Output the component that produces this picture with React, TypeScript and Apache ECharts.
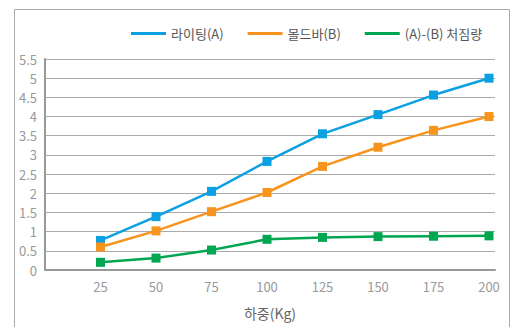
import React, { useEffect, useRef } from "react";
import * as echarts from "echarts";

const loads = [25, 50, 75, 100, 125, 150, 175, 200];
const seriesA = [0.77, 1.39, 2.05, 2.83, 3.55, 4.05, 4.56, 5.0];
const seriesB = [0.6, 1.02, 1.52, 2.02, 2.7, 3.2, 3.64, 4.0];
const seriesDiff = [0.2, 0.31, 0.52, 0.8, 0.85, 0.87, 0.88, 0.89];
const names = ["라이팅(A)", "몰드바(B)", "(A)-(B) 처짐량"];
const colors = ["#0aa0e2", "#f7941d", "#00a650"];

const FONT = "'Noto Sans CJK KR', 'Noto Sans', sans-serif";

export default function App() {
  const ref = useRef<HTMLDivElement>(null);
  useEffect(() => {
    if (!ref.current) return;
    const chart = echarts.init(ref.current, undefined, { renderer: "svg" });
    const mk = (vals: number[]) => loads.map((x, i) => [x, vals[i]]);
    const all = [seriesA, seriesB, seriesDiff];
    chart.setOption({
      animation: false,
      textStyle: { fontFamily: FONT },
      graphic: [
        {
          type: "rect",
          shape: { x: 14.5, y: 9.5, width: 495, height: 340 },
          style: { fill: "none", stroke: "#aaaaaa", lineWidth: 1 },
          silent: true,
        },
      ],
      legend: {
        top: 22,
        left: 126,
        width: 380,
        itemWidth: 35,
        itemHeight: 3,
        itemGap: 24,
        icon: "rect",
        textStyle: { color: "#555", fontSize: 13, fontFamily: FONT },
        data: names,
      },
      grid: { left: 45, right: 17, top: 59, bottom: 57, containLabel: false },
      xAxis: {
        type: "value",
        min: 0,
        max: 202.7,
        interval: 25,
        name: "하중(Kg)",
        nameLocation: "middle",
        nameGap: 36,
        nameTextStyle: { color: "#666", fontSize: 14, fontFamily: FONT },
        axisLine: { show: true, lineStyle: { color: "#999", width: 2 } },
        axisTick: { show: false },
        splitLine: { show: false },
        axisLabel: {
          color: "#999",
          fontSize: 13,
          margin: 10,
          formatter: (v: number) => (v > 0 && v % 25 === 0 ? String(v) : ""),
        },
      },
      yAxis: {
        type: "value",
        min: 0,
        max: 5.5,
        interval: 0.5,
        axisLine: { show: true, lineStyle: { color: "#999", width: 2 } },
        axisTick: { show: false },
        splitLine: { show: true, lineStyle: { color: "#aaa", width: 1 } },
        axisLabel: { color: "#999", fontSize: 13, margin: 8 },
      },
      series: names.map((n, i) => ({
        name: n,
        type: "line",
        data: mk(all[i]),
        symbol: "rect",
        symbolSize: 9,
        lineStyle: { color: colors[i], width: 2.5 },
        itemStyle: { color: colors[i] },
      })),
    });
    return () => chart.dispose();
  }, []);
  return (
    <div
      ref={ref}
      style={{ position: "absolute", left: 0, top: 0, width: 512, height: 327 }}
    />
  );
}
